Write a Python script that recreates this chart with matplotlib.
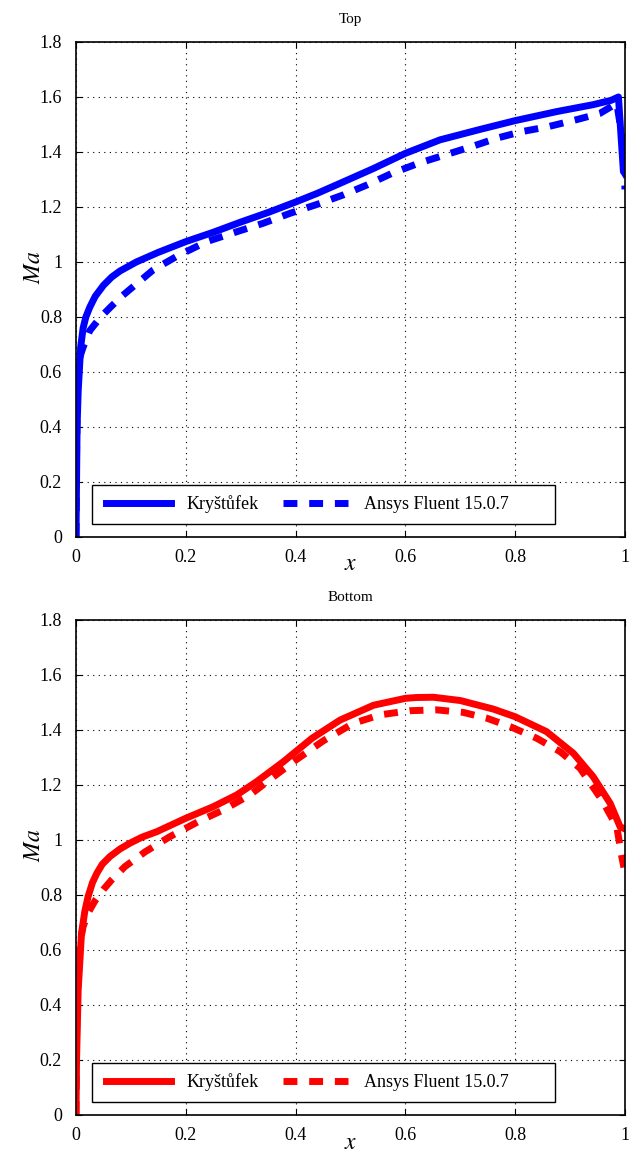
import matplotlib.pyplot as plt
from matplotlib.patches import Rectangle

plt.rcParams['font.family'] = ['Liberation Serif', 'DejaVu Serif']
plt.rcParams['mathtext.fontset'] = 'stix'

# top surface
top_x_kr = [0, 0.001, 0.002, 0.004, 0.0085, 0.013, 0.018, 0.025, 0.035, 0.05, 0.065, 0.08,
            0.11, 0.15, 0.2, 0.25, 0.3, 0.35, 0.4, 0.44, 0.481, 0.542, 0.6, 0.663, 0.736,
            0.8, 0.876, 0.942, 0.975, 0.988, 0.997, 1.0]
top_ma_kr = [0, 0.2, 0.4, 0.53, 0.69, 0.76, 0.8, 0.835, 0.875, 0.915, 0.945, 0.967,
             1.0, 1.035, 1.074, 1.108, 1.145, 1.18, 1.218, 1.25, 1.286, 1.34, 1.395, 1.444, 1.482,
             1.514, 1.547, 1.572, 1.588, 1.6, 1.33, 1.32]
top_x_fl = [0, 0.001, 0.003, 0.008, 0.013, 0.025, 0.045, 0.065, 0.085, 0.104, 0.14, 0.183,
            0.238, 0.293, 0.34, 0.39, 0.44, 0.487, 0.53, 0.575, 0.624, 0.672, 0.72, 0.766,
            0.812, 0.86, 0.909, 0.954, 0.985, 0.995, 1.0]
top_ma_fl = [0, 0.3, 0.6, 0.66, 0.69, 0.75, 0.8, 0.84, 0.878, 0.91, 0.97, 1.02,
             1.074, 1.11, 1.14, 1.177, 1.21, 1.244, 1.28, 1.322, 1.359, 1.389, 1.419, 1.45,
             1.474, 1.492, 1.516, 1.54, 1.577, 1.45, 1.264]

# bottom surface
bot_x_kr = [0, 0.001, 0.004, 0.01, 0.016, 0.022, 0.03, 0.038, 0.048, 0.062, 0.08, 0.098,
            0.12, 0.147, 0.2, 0.25, 0.293, 0.329, 0.378, 0.43, 0.481, 0.542, 0.6, 0.62,
            0.651, 0.7, 0.76, 0.8, 0.857, 0.906, 0.942, 0.973, 0.991, 1.0]
bot_ma_kr = [0, 0.2, 0.455, 0.66, 0.74, 0.794, 0.845, 0.879, 0.912, 0.94, 0.967, 0.988,
             1.01, 1.03, 1.079, 1.121, 1.164, 1.212, 1.285, 1.37, 1.436, 1.49, 1.515, 1.518,
             1.519, 1.507, 1.476, 1.448, 1.394, 1.315, 1.23, 1.133, 1.048, 1.04]
bot_x_fl = [0, 0.001, 0.005, 0.013, 0.022, 0.035, 0.05, 0.065, 0.089, 0.126, 0.171, 0.223,
            0.268, 0.317, 0.36, 0.4, 0.45, 0.505, 0.554, 0.608, 0.657, 0.705, 0.748, 0.791,
            0.839, 0.882, 0.918, 0.958, 0.985, 0.994, 0.998]
bot_ma_fl = [0, 0.3, 0.6, 0.685, 0.735, 0.78, 0.82, 0.855, 0.903, 0.957, 1.012, 1.067,
             1.109, 1.164, 1.23, 1.29, 1.36, 1.424, 1.455, 1.47, 1.473, 1.464, 1.443, 1.412,
             1.37, 1.321, 1.261, 1.145, 1.048, 0.94, 0.9]

panels = [
    ("Top", "#0000ff", top_x_kr, top_ma_kr, top_x_fl, top_ma_fl, 0.5355, -9),
    ("Bottom", "#ff0000", bot_x_kr, bot_ma_kr, bot_x_fl, bot_ma_fl, 0.0355, -8),
]
labels = ["Kryštůfek", "Ansys Fluent 15.0.7"]
xticks = [0, 0.2, 0.4, 0.6, 0.8, 1]
yticks = [0, 0.2, 0.4, 0.6, 0.8, 1, 1.2, 1.4, 1.6, 1.8]

fig = plt.figure(figsize=(6.37, 11.56), dpi=100)

for title, col, xk, yk, xf, yf, bottom, xlp in panels:
    ax = fig.add_axes([0.1193, bottom, 0.8619, 0.4282])
    ax.plot(xk, yk, color=col, lw=5, label=labels[0], solid_joinstyle='round')
    ax.plot(xf, yf, color=col, lw=5, dashes=(2.0, 1.7), label=labels[1],
            dash_joinstyle='round')
    ax.set_xlim(0, 1)
    ax.set_ylim(0, 1.8)
    ax.set_xticks(xticks)
    ax.set_xticklabels([f"{t:g}" for t in xticks])
    ax.set_yticks(yticks)
    ax.set_yticklabels([f"{t:g}" for t in yticks])
    ax.tick_params(direction='in', top=True, right=True, labelsize=13, length=4)
    ax.tick_params(axis='y', pad=10)
    ax.tick_params(axis='x', pad=9)
    ax.grid(True, color='black', linestyle=(0, (1, 4)), linewidth=0.8)
    for s in ax.spines.values():
        s.set_linewidth(1.2)
    ax.set_title(title, fontsize=11, pad=14)
    ax.set_xlabel("$x$", fontsize=17, labelpad=xlp)
    ax.set_ylabel("$Ma$", fontsize=17)
    ax.yaxis.set_label_coords(-0.056, 0.545)

    # legend box (MATLAB style, wider than its content)
    ax.add_patch(Rectangle((0.029, 0.027), 0.843, 0.077, transform=ax.transAxes,
                           facecolor='white', edgecolor='black', lw=1.0, zorder=4))
    ax.legend(ncol=2, loc='center left', bbox_to_anchor=(0.0545, 0.0655),
              fontsize=13, handlelength=3.6, handletextpad=0.89, columnspacing=1.33,
              frameon=False, borderpad=0, borderaxespad=0).set_zorder(5)

fig.savefig("out.png", dpi=100)
